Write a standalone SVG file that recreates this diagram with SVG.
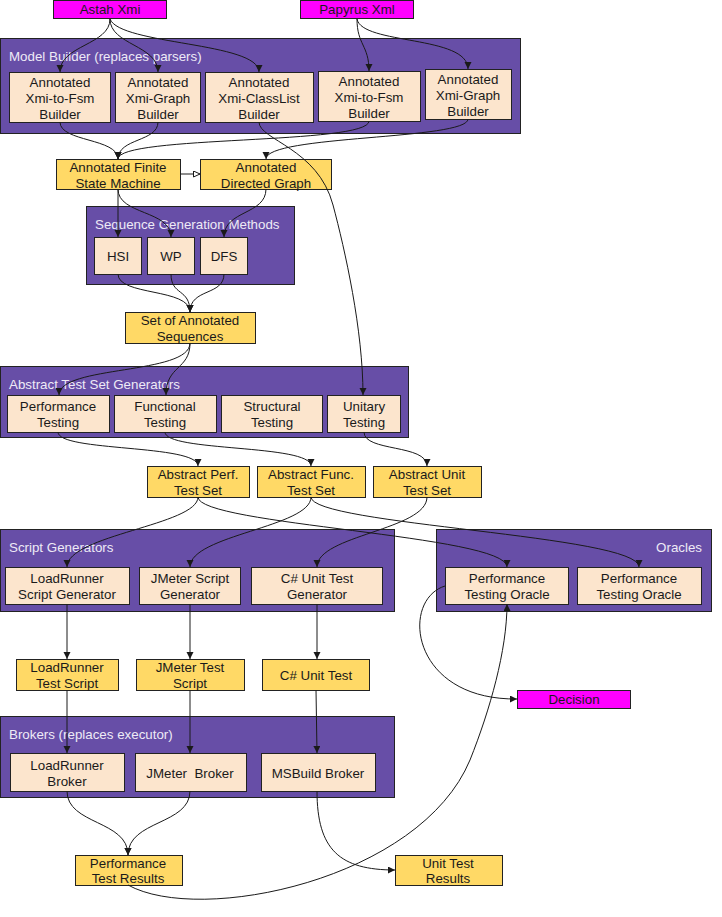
<svg xmlns="http://www.w3.org/2000/svg" width="722" height="917" viewBox="0 0 722 917">
<defs>
<style>
text{font-family:"Liberation Sans",Arial,sans-serif;font-size:13.33px;fill:#1a1a1a;text-anchor:middle}
.title{fill:#eeeaf6;text-anchor:start}
.cont{fill:#674ea7;stroke:#222;stroke-width:1}
.box{fill:#fce5cd;stroke:#222;stroke-width:1}
.data{fill:#ffd966;stroke:#222;stroke-width:1}
.ext{fill:#ff00ff;stroke:#222;stroke-width:1}
.c path{fill:none;stroke:#1a1a1a;stroke-width:1;marker-end:url(#ah)}
.c path.open{marker-end:url(#oh)}
</style>
<marker id="ah" markerWidth="8" markerHeight="8" refX="7" refY="3.5" orient="auto" markerUnits="userSpaceOnUse">
<path d="M0,0 L7,3.5 L0,7 z" fill="#1a1a1a"/>
</marker>
<marker id="oh" markerWidth="9" markerHeight="9" refX="7" refY="3.5" orient="auto" markerUnits="userSpaceOnUse">
<path d="M0.5,0.5 L7,3.5 L0.5,6.5 z" fill="#fff" stroke="#1a1a1a" stroke-width="1"/>
</marker>
</defs>
<rect width="722" height="917" fill="#fff"/>

<!-- containers -->
<g id="model-builder"><rect class="cont" x="0.5" y="38.5" width="520" height="95"/><text class="title" x="9" y="61">Model Builder (replaces parsers)</text></g>
<g id="seq-gen"><rect class="cont" x="86.5" y="206.5" width="208" height="78"/><text class="title" x="95" y="228.5">Sequence Generation Methods</text></g>
<g id="ats-gen"><rect class="cont" x="0.5" y="366.5" width="408" height="71"/><text class="title" x="9" y="388.5">Abstract Test Set Generators</text></g>
<g id="script-gen"><rect class="cont" x="0.5" y="529.5" width="394" height="82"/><text class="title" x="9" y="551.5">Script Generators</text></g>
<g id="oracles"><rect class="cont" x="436.5" y="529.5" width="275" height="82"/><text class="title" x="702" y="551.5" style="text-anchor:end">Oracles</text></g>
<g id="brokers"><rect class="cont" x="0.5" y="716.5" width="394" height="81"/><text class="title" x="9" y="738.5">Brokers (replaces executor)</text></g>

<!-- external -->
<g id="astah"><rect class="ext" x="53.5" y="0.5" width="113" height="18"/><text x="110" y="14">Astah Xmi</text></g>
<g id="papyrus"><rect class="ext" x="300.5" y="0.5" width="113" height="18"/><text x="357" y="14">Papyrus Xml</text></g>

<!-- builders -->
<g id="b1"><rect class="box" x="9.5" y="72.5" width="101" height="50"/><text x="60" y="86.5">Annotated</text><text x="60" y="102.5">Xmi-to-Fsm</text><text x="60" y="118.5">Builder</text></g>
<g id="b2"><rect class="box" x="115.5" y="72.5" width="85" height="50"/><text x="158" y="86.5">Annotated</text><text x="158" y="102.5">Xmi-Graph</text><text x="158" y="118.5">Builder</text></g>
<g id="b3"><rect class="box" x="205.5" y="72.5" width="108" height="50"/><text x="259" y="86.5">Annotated</text><text x="259" y="102.5">Xmi-ClassList</text><text x="259" y="118.5">Builder</text></g>
<g id="b4"><rect class="box" x="318.5" y="71.5" width="102" height="50"/><text x="369" y="85.5">Annotated</text><text x="369" y="101.5">Xmi-to-Fsm</text><text x="369" y="117.5">Builder</text></g>
<g id="b5"><rect class="box" x="425.5" y="69.5" width="86" height="50"/><text x="468" y="83.5">Annotated</text><text x="468" y="99.5">Xmi-Graph</text><text x="468" y="115.5">Builder</text></g>

<g id="fsm"><rect class="data" x="56.5" y="159.5" width="124" height="30"/><text x="118" y="171.5">Annotated Finite</text><text x="118" y="187.5">State Machine</text></g>
<g id="dg"><rect class="data" x="200.5" y="159.5" width="131" height="30"/><text x="266" y="171.5">Annotated</text><text x="266" y="187.5">Directed Graph</text></g>

<g id="hsi"><rect class="box" x="94.5" y="237.5" width="47" height="37"/><text x="118" y="260.5">HSI</text></g>
<g id="wp"><rect class="box" x="147.5" y="237.5" width="47" height="37"/><text x="171" y="260.5">WP</text></g>
<g id="dfs"><rect class="box" x="200.5" y="237.5" width="47" height="37"/><text x="224" y="260.5">DFS</text></g>

<g id="sas"><rect class="data" x="125.5" y="312.5" width="130" height="31"/><text x="190" y="324.5">Set of Annotated</text><text x="190" y="340.5">Sequences</text></g>

<g id="perf"><rect class="box" x="7.5" y="395.5" width="102" height="37"/><text x="58" y="410.5">Performance</text><text x="58" y="426.5">Testing</text></g>
<g id="func"><rect class="box" x="114.5" y="395.5" width="102" height="37"/><text x="165" y="410.5">Functional</text><text x="165" y="426.5">Testing</text></g>
<g id="struct"><rect class="box" x="221.5" y="395.5" width="101" height="37"/><text x="272" y="410.5">Structural</text><text x="272" y="426.5">Testing</text></g>
<g id="unit"><rect class="box" x="327.5" y="395.5" width="73" height="37"/><text x="364" y="410.5">Unitary</text><text x="364" y="426.5">Testing</text></g>

<g id="aperf"><rect class="data" x="147.5" y="466.5" width="102" height="31"/><text x="198" y="478.5">Abstract Perf.</text><text x="198" y="494.5">Test Set</text></g>
<g id="afunc"><rect class="data" x="257.5" y="466.5" width="108" height="31"/><text x="311" y="478.5">Abstract Func.</text><text x="311" y="494.5">Test Set</text></g>
<g id="aunit"><rect class="data" x="373.5" y="466.5" width="108" height="31"/><text x="427" y="478.5">Abstract Unit</text><text x="427" y="494.5">Test Set</text></g>

<g id="lrgen"><rect class="box" x="5.5" y="567.5" width="124" height="37"/><text x="67" y="582.5">LoadRunner</text><text x="67" y="598.5">Script Generator</text></g>
<g id="jmgen"><rect class="box" x="139.5" y="567.5" width="101" height="37"/><text x="190" y="582.5">JMeter Script</text><text x="190" y="598.5">Generator</text></g>
<g id="csgen"><rect class="box" x="251.5" y="567.5" width="131" height="37"/><text x="317" y="582.5">C# Unit Test</text><text x="317" y="598.5">Generator</text></g>

<g id="oracle1"><rect class="box" x="445.5" y="567.5" width="123" height="37"/><text x="507" y="582.5">Performance</text><text x="507" y="598.5">Testing Oracle</text></g>
<g id="oracle2"><rect class="box" x="577.5" y="567.5" width="124" height="37"/><text x="639" y="582.5">Performance</text><text x="639" y="598.5">Testing Oracle</text></g>

<g id="decision"><rect class="ext" x="517.5" y="690.5" width="113" height="18"/><text x="574" y="704">Decision</text></g>

<g id="lrscript"><rect class="data" x="16.5" y="659.5" width="102" height="31"/><text x="67" y="671.5">LoadRunner</text><text x="67" y="687.5">Test Script</text></g>
<g id="jmscript"><rect class="data" x="136.5" y="659.5" width="108" height="31"/><text x="190" y="671.5">JMeter Test</text><text x="190" y="687.5">Script</text></g>
<g id="cstest"><rect class="data" x="262.5" y="659.5" width="107" height="31"/><text x="316" y="679.5">C# Unit Test</text></g>

<g id="lrbroker"><rect class="box" x="10.5" y="753.5" width="114" height="38"/><text x="67" y="769.5">LoadRunner</text><text x="67" y="785.5">Broker</text></g>
<g id="jmbroker"><rect class="box" x="135.5" y="753.5" width="111" height="38"/><text x="190" y="777.5" xml:space="preserve">JMeter  Broker</text></g>
<g id="msbroker"><rect class="box" x="261.5" y="753.5" width="114" height="38"/><text x="318" y="777.5">MSBuild Broker</text></g>

<g id="ptr"><rect class="data" x="75.5" y="855.5" width="107" height="30"/><text x="128" y="867.5">Performance</text><text x="128" y="883">Test Results</text></g>
<g id="utr"><rect class="data" x="395.5" y="855.5" width="107" height="30"/><text x="448" y="867.5">Unit Test</text><text x="448" y="883">Results</text></g>

<g id="connectors" class="c">
<path d="M110,19 C110,45 60,45 60,72"/>
<path d="M110,19 C110,45 158,45 158,72"/>
<path d="M110,19 C120,45 259,42 259,72"/>
<path d="M357,19 C357,45 369,45 369,71"/>
<path d="M357,19 C362,45 468,35 468,69"/>
<path d="M60,122 C60,142 118,138 118,159"/>
<path d="M158,122 C158,142 118,138 118,159"/>
<path d="M369,121 C369,145 118,135 118,159"/>
<path d="M468,119 C468,140 266,135 266,159"/>
<path d="M259,122 C259,140 318,148 333,205 C345,250 363,330 363,395"/>
<path class="open" d="M180,174 L200,174"/>
<path d="M118,189 L118,237"/>
<path d="M118,189 C118,215 171,210 171,237"/>
<path d="M266,189 C266,215 224,210 224,237"/>
<path d="M118,274 C118,296 190,288 190,312"/>
<path d="M171,274 C171,296 190,288 190,312"/>
<path d="M224,274 C224,296 190,288 190,312"/>
<path d="M190,343 C190,375 59,365 59,395"/>
<path d="M190,343 C190,370 166,365 166,395"/>
<path d="M58,432 C58,452 198,444 198,466"/>
<path d="M165,432 C165,452 311,444 311,466"/>
<path d="M364,432 C364,452 427,444 427,466"/>
<path d="M198,497 C198,525 67,535 67,567"/>
<path d="M198,497 C198,525 507,535 507,567"/>
<path d="M311,497 C311,527 190,535 190,567"/>
<path d="M311,497 C311,525 639,535 639,567"/>
<path d="M427,497 C427,530 317,535 317,567"/>
<path d="M67,604 L67,659"/>
<path d="M190,604 L190,659"/>
<path d="M317,604 L317,659"/>
<path d="M67,690 L67,753"/>
<path d="M190,690 L190,753"/>
<path d="M316,690 L317,753"/>
<path d="M67,791 C67,825 128,820 128,855"/>
<path d="M190,791 C190,825 128,820 128,855"/>
<path d="M317,791 C317,850 340,870 395,870"/>
<path d="M128,885 C200,925 420,880 470,760 C490,710 507,650 507,604"/>
<path d="M445,586 C400,600 410,700 517,699"/>
</g>
</svg>
